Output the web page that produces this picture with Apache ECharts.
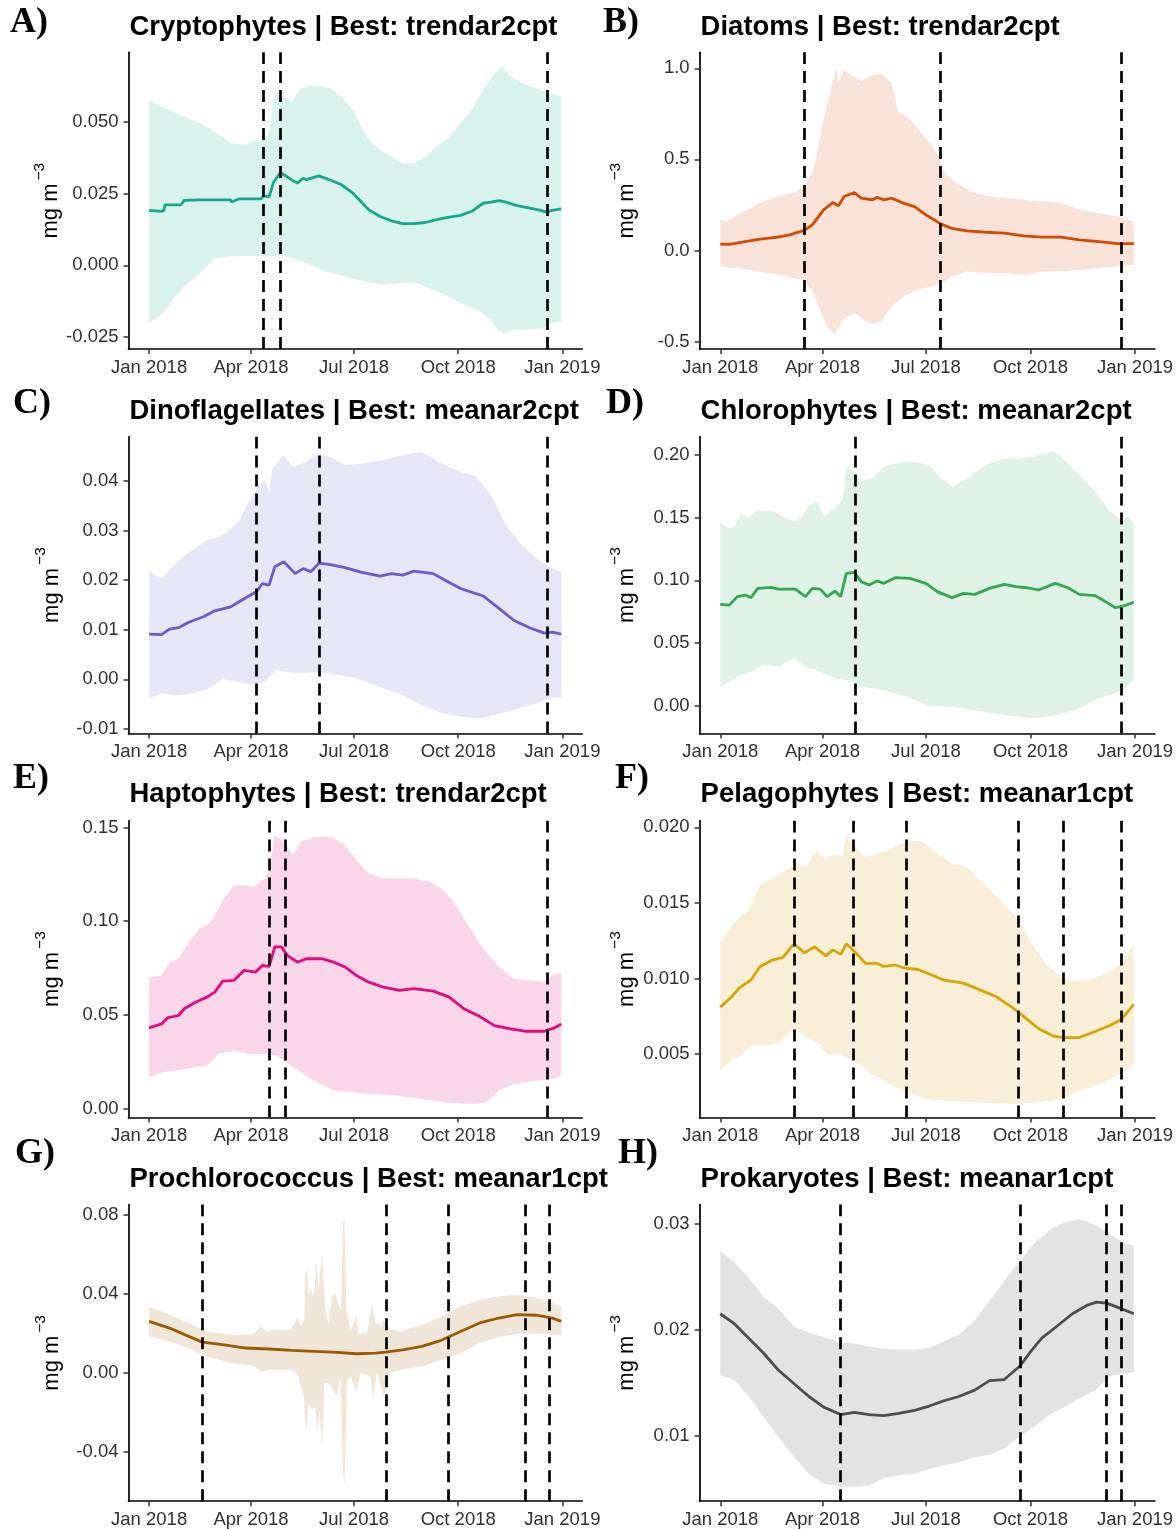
<!DOCTYPE html>
<html><head><meta charset="utf-8">
<script src="https://cdn.jsdelivr.net/npm/echarts@6/dist/echarts.min.js"></script>
<style>html,body{margin:0;padding:0;background:#fff}#chart{width:1176px;height:1530px}</style>
</head><body><div id="chart"></div>
<script>
// x values: days since 2018-01-01
const DAY_TICKS = [0, 90, 181, 273, 365];
const DAY_LABELS = ['Jan 2018', 'Apr 2018', 'Jul 2018', 'Oct 2018', 'Jan 2019'];

// ---- A) Cryptophytes
const A_mean = [[0,0.0191],[11,0.0188],[13,0.0191],[14,0.021],[28,0.021],[31,0.0226],[45,0.0228],[72,0.0228],[73,0.022],[79,0.0231],[99,0.0231],[101,0.0242],[106,0.0238],[110,0.029],[116,0.0323],[119,0.0315],[126,0.0297],[131,0.0286],[136,0.0303],[139,0.0298],[150,0.0311],[160,0.0297],[170,0.028],[180,0.0251],[187,0.0222],[194,0.0193],[204,0.017],[214,0.0155],[224,0.0145],[234,0.0145],[244,0.0149],[254,0.0159],[265,0.0168],[275,0.0174],[285,0.0188],[295,0.0216],[302,0.022],[309,0.0225],[315,0.022],[325,0.0208],[336,0.0199],[346,0.0191],[351,0.0185],[356,0.0191],[364,0.0196]];
const A_hi = [[0,0.0575],[11,0.0552],[21,0.0535],[31,0.0517],[45,0.0494],[58,0.0465],[72,0.0425],[85,0.042],[92,0.0431],[102,0.0436],[106,0.046],[110,0.0575],[112,0.0598],[119,0.0587],[126,0.057],[133,0.061],[139,0.0622],[150,0.0624],[160,0.0616],[170,0.0587],[180,0.054],[187,0.0483],[194,0.0437],[204,0.0402],[214,0.0378],[224,0.0355],[234,0.0353],[244,0.0378],[254,0.0413],[265,0.0448],[275,0.0494],[285,0.054],[295,0.061],[305,0.0668],[312,0.0691],[318,0.0662],[329,0.0633],[342,0.0616],[353,0.0598],[364,0.0587]];
const A_lo = [[0,-0.020],[11,-0.0171],[21,-0.0119],[31,-0.0073],[45,-0.0027],[58,0.0025],[72,0.0031],[85,0.0033],[102,0.0031],[109,0.0031],[116,0.0037],[126,0.0025],[139,0.0008],[156,-0.0021],[173,-0.0038],[190,-0.0056],[207,-0.0067],[224,-0.0061],[234,-0.0059],[244,-0.0073],[258,-0.0096],[275,-0.013],[292,-0.016],[302,-0.0189],[309,-0.0229],[315,-0.0235],[322,-0.0223],[336,-0.0223],[349,-0.0218],[356,-0.0200],[364,-0.0194]];
const A_vlines = [101, 116, 352];
const A_yTicks = [-0.025, 0, 0.025, 0.05];
const A_yLabels = ['-0.025', '0.000', '0.025', '0.050'];

// ---- B) Diatoms
const B_mean = [[0,0.035],[8,0.033],[18,0.044],[35,0.062],[51,0.073],[61,0.086],[74,0.11],[81,0.141],[91,0.223],[99,0.263],[104,0.245],[109,0.296],[118,0.318],[124,0.287],[134,0.278],[138,0.292],[144,0.278],[151,0.287],[161,0.26],[171,0.241],[181,0.196],[194,0.146],[204,0.121],[217,0.108],[234,0.1],[250,0.095],[267,0.08],[283,0.073],[300,0.073],[316,0.058],[333,0.048],[350,0.038],[364,0.038]];
const B_hi = [[0,0.168],[5,0.159],[18,0.205],[35,0.26],[51,0.296],[65,0.314],[74,0.36],[81,0.424],[85,0.534],[91,0.717],[98,0.9],[102,1.0],[104,0.918],[109,0.99],[118,0.954],[124,0.927],[131,0.954],[141,0.973],[151,0.918],[156,0.77],[167,0.717],[177,0.644],[187,0.57],[194,0.479],[199,0.415],[210,0.36],[224,0.314],[237,0.296],[250,0.287],[267,0.278],[283,0.269],[300,0.26],[316,0.223],[333,0.205],[350,0.186],[364,0.159]];
const B_lo = [[0,-0.088],[18,-0.1],[35,-0.115],[51,-0.133],[71,-0.16],[81,-0.216],[88,-0.325],[94,-0.417],[101,-0.463],[108,-0.38],[118,-0.344],[131,-0.4],[141,-0.391],[151,-0.307],[161,-0.252],[174,-0.216],[187,-0.197],[194,-0.179],[204,-0.143],[217,-0.115],[234,-0.124],[250,-0.124],[267,-0.133],[283,-0.115],[300,-0.115],[316,-0.106],[333,-0.097],[350,-0.088],[364,-0.079]];
const B_vlines = [74, 194, 353];
const B_yTicks = [-0.5, 0, 0.5, 1.0];
const B_yLabels = ['-0.5', '0.0', '0.5', '1.0'];

// ---- C) Dinoflagellates
const C_mean = [[0,0.0091],[11,0.009],[18,0.0101],[26,0.0104],[35,0.0115],[48,0.0126],[58,0.0138],[72,0.0146],[82,0.016],[95,0.0177],[100,0.0193],[106,0.019],[111,0.0227],[119,0.0237],[129,0.0213],[136,0.0223],[143,0.0217],[150,0.0234],[160,0.0231],[173,0.0225],[187,0.0216],[204,0.0208],[214,0.0213],[224,0.021],[234,0.0218],[251,0.0213],[261,0.02],[275,0.0183],[295,0.0168],[309,0.0143],[322,0.0119],[336,0.0104],[349,0.0093],[356,0.0095],[364,0.0091]];
const C_hi = [[0,0.0218],[11,0.0203],[18,0.022],[28,0.0244],[38,0.026],[51,0.028],[65,0.029],[79,0.0317],[89,0.0361],[95,0.0385],[102,0.0401],[106,0.0378],[109,0.0425],[119,0.0452],[126,0.0428],[136,0.0435],[150,0.0455],[160,0.0448],[173,0.0432],[190,0.0435],[207,0.0442],[224,0.0452],[241,0.0458],[258,0.0435],[275,0.0418],[288,0.0411],[302,0.0371],[315,0.0311],[329,0.027],[342,0.0244],[353,0.0227],[364,0.0217]];
const C_lo = [[0,-0.0038],[11,-0.0028],[24,-0.0032],[38,-0.0028],[51,-0.0021],[65,0.0],[79,-0.0005],[92,-0.0011],[102,-0.0005],[112,0.0019],[129,0.0012],[150,0.0015],[166,0.0009],[183,0.0002],[207,-0.0018],[224,-0.0032],[241,-0.0052],[258,-0.0068],[275,-0.0075],[292,-0.0079],[305,-0.0072],[322,-0.0062],[342,-0.0048],[356,-0.0038],[364,-0.0035]];
const C_vlines = [95, 150, 352];
const C_yTicks = [-0.01, 0, 0.01, 0.02, 0.03, 0.04];
const C_yLabels = ['-0.01', '0.00', '0.01', '0.02', '0.03', '0.04'];

// ---- D) Chlorophytes
const D_mean = [[0,0.0809],[8,0.0803],[15,0.087],[22,0.0883],[27,0.0862],[33,0.0936],[45,0.0944],[51,0.093],[58,0.093],[66,0.093],[75,0.087],[81,0.0936],[88,0.093],[94,0.087],[101,0.0915],[106,0.087],[111,0.1056],[118,0.1064],[124,0.099],[131,0.0963],[138,0.0995],[144,0.0976],[154,0.1021],[167,0.1016],[181,0.0976],[191,0.091],[204,0.0862],[214,0.0896],[224,0.0888],[237,0.0936],[250,0.0968],[260,0.095],[270,0.0941],[280,0.0923],[295,0.0976],[306,0.0941],[316,0.0888],[330,0.0878],[339,0.083],[348,0.0782],[356,0.0798],[364,0.0824]];
const D_hi = [[0,0.1468],[7,0.1415],[13,0.1428],[18,0.1535],[25,0.1495],[31,0.155],[45,0.156],[55,0.1508],[65,0.147],[71,0.1495],[78,0.16],[85,0.163],[91,0.1508],[98,0.156],[104,0.16],[108,0.1654],[111,0.1907],[118,0.1867],[124,0.179],[134,0.1814],[144,0.1907],[157,0.194],[171,0.1944],[184,0.192],[191,0.184],[204,0.1747],[217,0.181],[233,0.192],[250,0.197],[263,0.197],[276,0.1987],[293,0.2027],[303,0.196],[316,0.184],[330,0.1707],[343,0.155],[353,0.148],[359,0.1508],[364,0.1455]];
const D_lo = [[0,0.0152],[8,0.0191],[18,0.0245],[28,0.0271],[38,0.0324],[51,0.0311],[65,0.0378],[75,0.0311],[88,0.0271],[101,0.0218],[118,0.0191],[124,0.0152],[144,0.0125],[164,0.0072],[184,0.0],[204,-0.0008],[224,-0.0035],[250,-0.0074],[276,-0.0101],[296,-0.0074],[313,-0.0035],[330,0.0045],[346,0.0098],[356,0.0138],[364,0.0205]];
const D_vlines = [119, 353];
const D_yTicks = [0, 0.05, 0.1, 0.15, 0.2];
const D_yLabels = ['0.00', '0.05', '0.10', '0.15', '0.20'];

// ---- E) Haptophytes
const E_mean = [[0,0.043],[11,0.0451],[16,0.0483],[26,0.0496],[31,0.0532],[41,0.0567],[51,0.0594],[58,0.0621],[65,0.068],[75,0.0684],[84,0.0737],[94,0.0728],[100,0.0763],[106,0.0758],[111,0.0862],[117,0.0862],[122,0.0817],[131,0.0781],[139,0.0799],[153,0.0799],[163,0.0781],[173,0.0755],[183,0.071],[194,0.0674],[207,0.0647],[221,0.063],[234,0.0639],[251,0.0626],[265,0.0594],[278,0.0532],[292,0.0491],[305,0.0442],[319,0.0425],[332,0.0412],[349,0.0412],[358,0.043],[364,0.0451]];
const E_hi = [[0,0.0697],[11,0.071],[18,0.0781],[26,0.0799],[35,0.0888],[45,0.096],[55,0.0995],[65,0.1111],[75,0.1192],[85,0.1192],[92,0.1183],[102,0.1227],[106,0.1272],[111,0.1459],[119,0.1423],[127,0.1352],[134,0.1423],[146,0.145],[160,0.145],[173,0.1406],[183,0.1325],[194,0.1254],[207,0.1227],[221,0.1227],[234,0.1227],[248,0.1209],[258,0.1174],[268,0.1111],[281,0.0986],[295,0.0853],[309,0.0755],[322,0.0692],[335,0.0683],[349,0.0674],[358,0.0718],[364,0.0722]];
const E_lo = [[0,0.0166],[11,0.0193],[24,0.0201],[38,0.0219],[51,0.0228],[61,0.0291],[75,0.0309],[89,0.0291],[99,0.0291],[113,0.0282],[119,0.0255],[132,0.0202],[146,0.0148],[163,0.0095],[180,0.0086],[197,0.0077],[221,0.0068],[241,0.005],[261,0.0032],[281,0.0023],[297,0.0032],[309,0.0095],[322,0.013],[342,0.0148],[356,0.0157],[364,0.0175]];
const E_vlines = [106, 120, 352];
const E_yTicks = [0, 0.05, 0.1, 0.15];
const E_yLabels = ['0.00', '0.05', '0.10', '0.15'];

// ---- F) Pelagophytes
const F_mean = [[0,0.0081],[10,0.0088],[17,0.0094],[27,0.0099],[35,0.0108],[45,0.0112],[55,0.0114],[65,0.0123],[74,0.0117],[83,0.0121],[93,0.0115],[99,0.0119],[106,0.0116],[111,0.0123],[118,0.0118],[128,0.011],[138,0.011],[144,0.0108],[154,0.0109],[162,0.0107],[174,0.0106],[184,0.0103],[197,0.0099],[214,0.0097],[227,0.0093],[243,0.0088],[257,0.0081],[267,0.0075],[280,0.0067],[293,0.0062],[303,0.0061],[316,0.0061],[330,0.0065],[343,0.0069],[353,0.0073],[364,0.0083]];
const F_hi = [[0,0.0123],[7,0.0132],[17,0.0141],[25,0.0145],[35,0.0162],[48,0.0167],[58,0.0172],[68,0.0176],[76,0.0174],[85,0.0185],[91,0.0179],[101,0.0182],[108,0.0181],[111,0.0195],[118,0.0188],[127,0.018],[137,0.0182],[151,0.0186],[164,0.0191],[177,0.0191],[190,0.0183],[204,0.0176],[217,0.0174],[230,0.0164],[244,0.0154],[260,0.0141],[273,0.0125],[286,0.011],[300,0.0101],[313,0.0098],[330,0.01],[343,0.0105],[356,0.0112],[364,0.0123]];
const F_lo = [[0,0.0039],[10,0.0046],[18,0.0049],[28,0.0056],[41,0.0056],[51,0.0057],[65,0.0067],[75,0.0061],[88,0.0057],[93,0.005],[104,0.005],[118,0.0046],[131,0.0038],[144,0.0033],[157,0.0027],[171,0.0023],[184,0.002],[204,0.0019],[230,0.0018],[257,0.0017],[276,0.0018],[300,0.002],[316,0.0026],[333,0.003],[350,0.0036],[359,0.004],[364,0.0044]];
const F_vlines = [65, 117, 164, 262, 302, 353];
const F_yTicks = [0.005, 0.01, 0.015, 0.02];
const F_yLabels = ['0.005', '0.010', '0.015', '0.020'];

// ---- G) Prochlorococcus
const G_mean = [[0,0.0259],[18,0.0225],[35,0.0183],[47,0.0154],[65,0.0141],[85,0.0124],[106,0.0119],[126,0.0112],[146,0.0107],[166,0.0102],[183,0.0095],[200,0.0098],[209,0.0103],[224,0.0115],[241,0.0132],[258,0.0163],[275,0.0208],[292,0.0251],[309,0.0276],[325,0.0293],[342,0.029],[356,0.0276],[364,0.0259]];
const G_hi = [[0,0.0332],[18,0.0293],[35,0.0251],[51,0.0208],[72,0.0191],[92,0.0191],[99,0.0234],[104,0.0205],[110,0.0217],[125,0.0217],[128,0.0243],[131,0.0277],[134,0.0234],[137,0.0268],[138,0.0488],[139.5,0.0539],[141,0.0386],[142.5,0.042],[145.4,0.0386],[147.8,0.0556],[149.8,0.042],[152.8,0.0607],[154.2,0.0437],[155.7,0.0319],[158.6,0.0251],[161.6,0.0386],[164.5,0.0404],[167.5,0.0336],[169.6,0.0319],[171.3,0.076],[172.5,0.0776],[174.3,0.0319],[177.8,0.0217],[183.1,0.0285],[185.1,0.02],[192.5,0.02],[196.9,0.0353],[199.9,0.0251],[204.3,0.0243],[207.2,0.0268],[213.1,0.0217],[222,0.0208],[241,0.0242],[258,0.0284],[275,0.0335],[292,0.0369],[309,0.0386],[325,0.0394],[342,0.0378],[356,0.0352],[364,0.0335]];
const G_lo = [[0,0.0183],[18,0.0157],[35,0.0124],[51,0.0081],[72,0.0047],[92,0.0034],[99,0.0005],[107,0.0014],[125,0.0014],[130.7,-0.0003],[136.6,-0.0122],[138.9,-0.030],[141,-0.0156],[144,-0.019],[146.9,-0.0173],[148.4,-0.0291],[150.7,-0.019],[152.8,-0.0376],[154.8,-0.0054],[158.6,-0.0054],[163,-0.0088],[166,-0.0122],[169,-0.002],[171.3,-0.0511],[172.5,-0.058],[174.9,-0.0037],[177.8,-0.002],[183.1,-0.0097],[186.6,-0.0003],[195.4,-0.002],[197.8,-0.0122],[201.3,-0.0003],[207.2,-0.0122],[213.1,-0.0003],[222,0.0014],[241,0.003],[258,0.0064],[275,0.0098],[292,0.0149],[309,0.0179],[325,0.0196],[342,0.0196],[356,0.0191],[364,0.0191]];
const G_vlines = [47, 209, 264, 332, 353];
const G_yTicks = [-0.04, 0, 0.04, 0.08];
const G_yLabels = ['-0.04', '0.00', '0.04', '0.08'];

// ---- H) Prokaryotes
const H_mean = [[0,0.0215],[12,0.0206],[25,0.0192],[38,0.0178],[51,0.0162],[65,0.0149],[78,0.0137],[91,0.0127],[106,0.012],[118,0.0122],[131,0.012],[144,0.0119],[157,0.0121],[171,0.0124],[184,0.0128],[197,0.0133],[210,0.0137],[224,0.0143],[237,0.0152],[250,0.0153],[264,0.0166],[273,0.0179],[283,0.0192],[296,0.0203],[310,0.0215],[323,0.0223],[331,0.0226],[340,0.0225],[350,0.0221],[364,0.0215]];
const H_hi = [[0,0.0274],[12,0.0264],[25,0.0249],[38,0.0231],[51,0.022],[65,0.0203],[78,0.0197],[91,0.0193],[106,0.0188],[118,0.0187],[131,0.0184],[144,0.0182],[157,0.0181],[171,0.0181],[184,0.0183],[197,0.0189],[210,0.0195],[224,0.0209],[237,0.0227],[250,0.0246],[263,0.0264],[277,0.0282],[290,0.0294],[303,0.0301],[316,0.0304],[330,0.0299],[343,0.029],[356,0.0282],[364,0.0279]];
const H_lo = [[0,0.0157],[12,0.0153],[25,0.0137],[38,0.0118],[51,0.0099],[65,0.008],[78,0.0064],[91,0.0055],[106,0.0052],[118,0.0052],[131,0.0053],[144,0.006],[157,0.0063],[171,0.0064],[184,0.0069],[197,0.0072],[210,0.0075],[224,0.008],[237,0.0082],[250,0.0088],[263,0.0099],[277,0.0109],[290,0.012],[303,0.0127],[316,0.0135],[330,0.0143],[343,0.0156],[356,0.0159],[364,0.016]];
const H_vlines = [106, 264, 340, 353];
const H_yTicks = [0.01, 0.02, 0.03];
const H_yLabels = ['0.01', '0.02', '0.03'];

// ---- panel configuration
const PANELS = [
  {tag:'A)', title:'Cryptophytes | Best: trendar2cpt', mean:A_mean, hi:A_hi, lo:A_lo, vl:A_vlines, yt:A_yTicks, yl:A_yLabels, ymin:-0.0291, ymax:0.0741, line:'#14A98A', fill:'#D9F2EC'},
  {tag:'B)', title:'Diatoms | Best: trendar2cpt', mean:B_mean, hi:B_hi, lo:B_lo, vl:B_vlines, yt:B_yTicks, yl:B_yLabels, ymin:-0.541, ymax:1.088, line:'#D54A00', fill:'#F9E2D7'},
  {tag:'C)', title:'Dinoflagellates | Best: meanar2cpt', mean:C_mean, hi:C_hi, lo:C_lo, vl:C_vlines, yt:C_yTicks, yl:C_yLabels, ymin:-0.0109, ymax:0.0489, line:'#6A5ACD', fill:'#E6E6F7'},
  {tag:'D)', title:'Chlorophytes | Best: meanar2cpt', mean:D_mean, hi:D_hi, lo:D_lo, vl:D_vlines, yt:D_yTicks, yl:D_yLabels, ymin:-0.0221, ymax:0.2146, line:'#33A852', fill:'#E0F1E5'},
  {tag:'E)', title:'Haptophytes | Best: trendar2cpt', mean:E_mean, hi:E_hi, lo:E_lo, vl:E_vlines, yt:E_yTicks, yl:E_yLabels, ymin:-0.0048, ymax:0.1536, line:'#E7087E', fill:'#F9D6E8'},
  {tag:'F)', title:'Pelagophytes | Best: meanar1cpt', mean:F_mean, hi:F_hi, lo:F_lo, vl:F_vlines, yt:F_yTicks, yl:F_yLabels, ymin:0.00082, ymax:0.02044, line:'#DAA400', fill:'#F9EFD8'},
  {tag:'G)', title:'Prochlorococcus | Best: meanar1cpt', mean:G_mean, hi:G_hi, lo:G_lo, vl:G_vlines, yt:G_yTicks, yl:G_yLabels, ymin:-0.0652, ymax:0.0851, line:'#9A5A00', fill:'#EFE6D9'},
  {tag:'H)', title:'Prokaryotes | Best: meanar1cpt', mean:H_mean, hi:H_hi, lo:H_lo, vl:H_vlines, yt:H_yTicks, yl:H_yLabels, ymin:0.00383, ymax:0.0318, line:'#4D4D4D', fill:'#E3E3E3'}
];

const X_MIN = -18.2, X_MAX = 382.5;
const COLS = [{left:128.5, width:453.7, nameGap:66, tagX:10}, {left:699.6, width:457.4, nameGap:62, tagX:603}];
const ROWS = [52.3, 436.7, 820.7, 1204.5];
const GRID_H = 296.7;
const TITLE_TOP = [13, 397, 780.5, 1165];
const TAG_TOP = [5, 386, 761, 1136];
const TAG_DX = [[0, 0], [3, 3], [3, 12], [5, 15]];
const SANS = 'Liberation Sans, Arial, sans-serif';
const SERIF = 'Liberation Serif, Times New Roman, serif';

function lbl(ticks, labels, v) {
  for (let k = 0; k < ticks.length; k++) if (Math.abs(ticks[k] - v) < 1e-9) return labels[k];
  return '';
}

const grid = [], xAxis = [], yAxis = [], series = [], title = [];
PANELS.forEach((p, i) => {
  const col = i % 2, c = COLS[col], r = Math.floor(i / 2);
  grid.push({left: c.left, width: c.width, top: ROWS[r], height: GRID_H, containLabel: false});
  xAxis.push({
    type: 'value', gridIndex: i, min: X_MIN, max: X_MAX, position: 'bottom',
    axisLine: {show: true, onZero: false, lineStyle: {color: '#000', width: 1.7}},
    axisTick: {show: true, length: 5, inside: false, lineStyle: {color: '#333', width: 1.5}, customValues: DAY_TICKS},
    axisLabel: {show: true, customValues: DAY_TICKS, formatter: v => lbl(DAY_TICKS, DAY_LABELS, v), fontSize: 18.5, color: '#303030', margin: 9, fontFamily: SANS},
    splitLine: {show: false}
  });
  yAxis.push({
    type: 'value', gridIndex: i, min: p.ymin, max: p.ymax, position: 'left',
    name: '{a|mg m}{b|−3}', nameLocation: 'middle', nameRotate: 90, nameGap: c.nameGap,
    nameTextStyle: {fontSize: 22, fontFamily: SANS, color: '#000', rich: {
      a: {fontSize: 22, fontFamily: SANS, color: '#000', lineHeight: 30, verticalAlign: 'bottom'},
      b: {fontSize: 15.5, fontFamily: SANS, color: '#000', lineHeight: 16, verticalAlign: 'top', padding: [0, 0, 0, 3]}
    }},
    axisLine: {show: true, onZero: false, lineStyle: {color: '#000', width: 1.7}},
    axisTick: {show: true, length: 5, inside: false, lineStyle: {color: '#333', width: 1.5}, customValues: p.yt},
    axisLabel: {show: true, customValues: p.yt, formatter: v => lbl(p.yt, p.yl, v), fontSize: 18.5, color: '#303030', margin: 10, fontFamily: SANS},
    splitLine: {show: false}
  });
  const hi = p.hi, lo = p.lo, fill = p.fill;
  series.push({
    type: 'custom', xAxisIndex: i, yAxisIndex: i, silent: true, z: 1,
    data: [hi[0]],
    renderItem: function (params, api) {
      if (params.dataIndex !== 0) return null;
      const pts = hi.map(d => api.coord(d)).concat(lo.slice().reverse().map(d => api.coord(d)));
      return {type: 'polygon', shape: {points: pts}, style: {fill: fill, stroke: null}};
    }
  });
  series.push({
    type: 'line', xAxisIndex: i, yAxisIndex: i, data: p.mean, symbol: 'none', showSymbol: false, z: 2,
    lineStyle: {color: p.line, width: 2.8}, silent: true,
    markLine: {
      silent: true, symbol: ['none', 'none'], label: {show: false}, animation: false,
      lineStyle: {color: '#000', type: [12, 7], width: 2.7},
      data: p.vl.map(d => ({xAxis: d}))
    }
  });
  title.push({text: p.title, left: c.left + 1, top: TITLE_TOP[r], padding: 0,
    textStyle: {fontFamily: SANS, fontWeight: 'bold', fontSize: 27.5, color: '#000'}});
  title.push({text: p.tag, left: c.tagX + TAG_DX[r][col], top: TAG_TOP[r], padding: 0,
    textStyle: {fontFamily: SERIF, fontWeight: 'bold', fontSize: 36, color: '#000'}});
});

const chart = echarts.init(document.getElementById('chart'), null, {renderer: 'canvas'});
chart.setOption({animation: false, backgroundColor: '#fff', title, grid, xAxis, yAxis, series});
</script></body></html>
